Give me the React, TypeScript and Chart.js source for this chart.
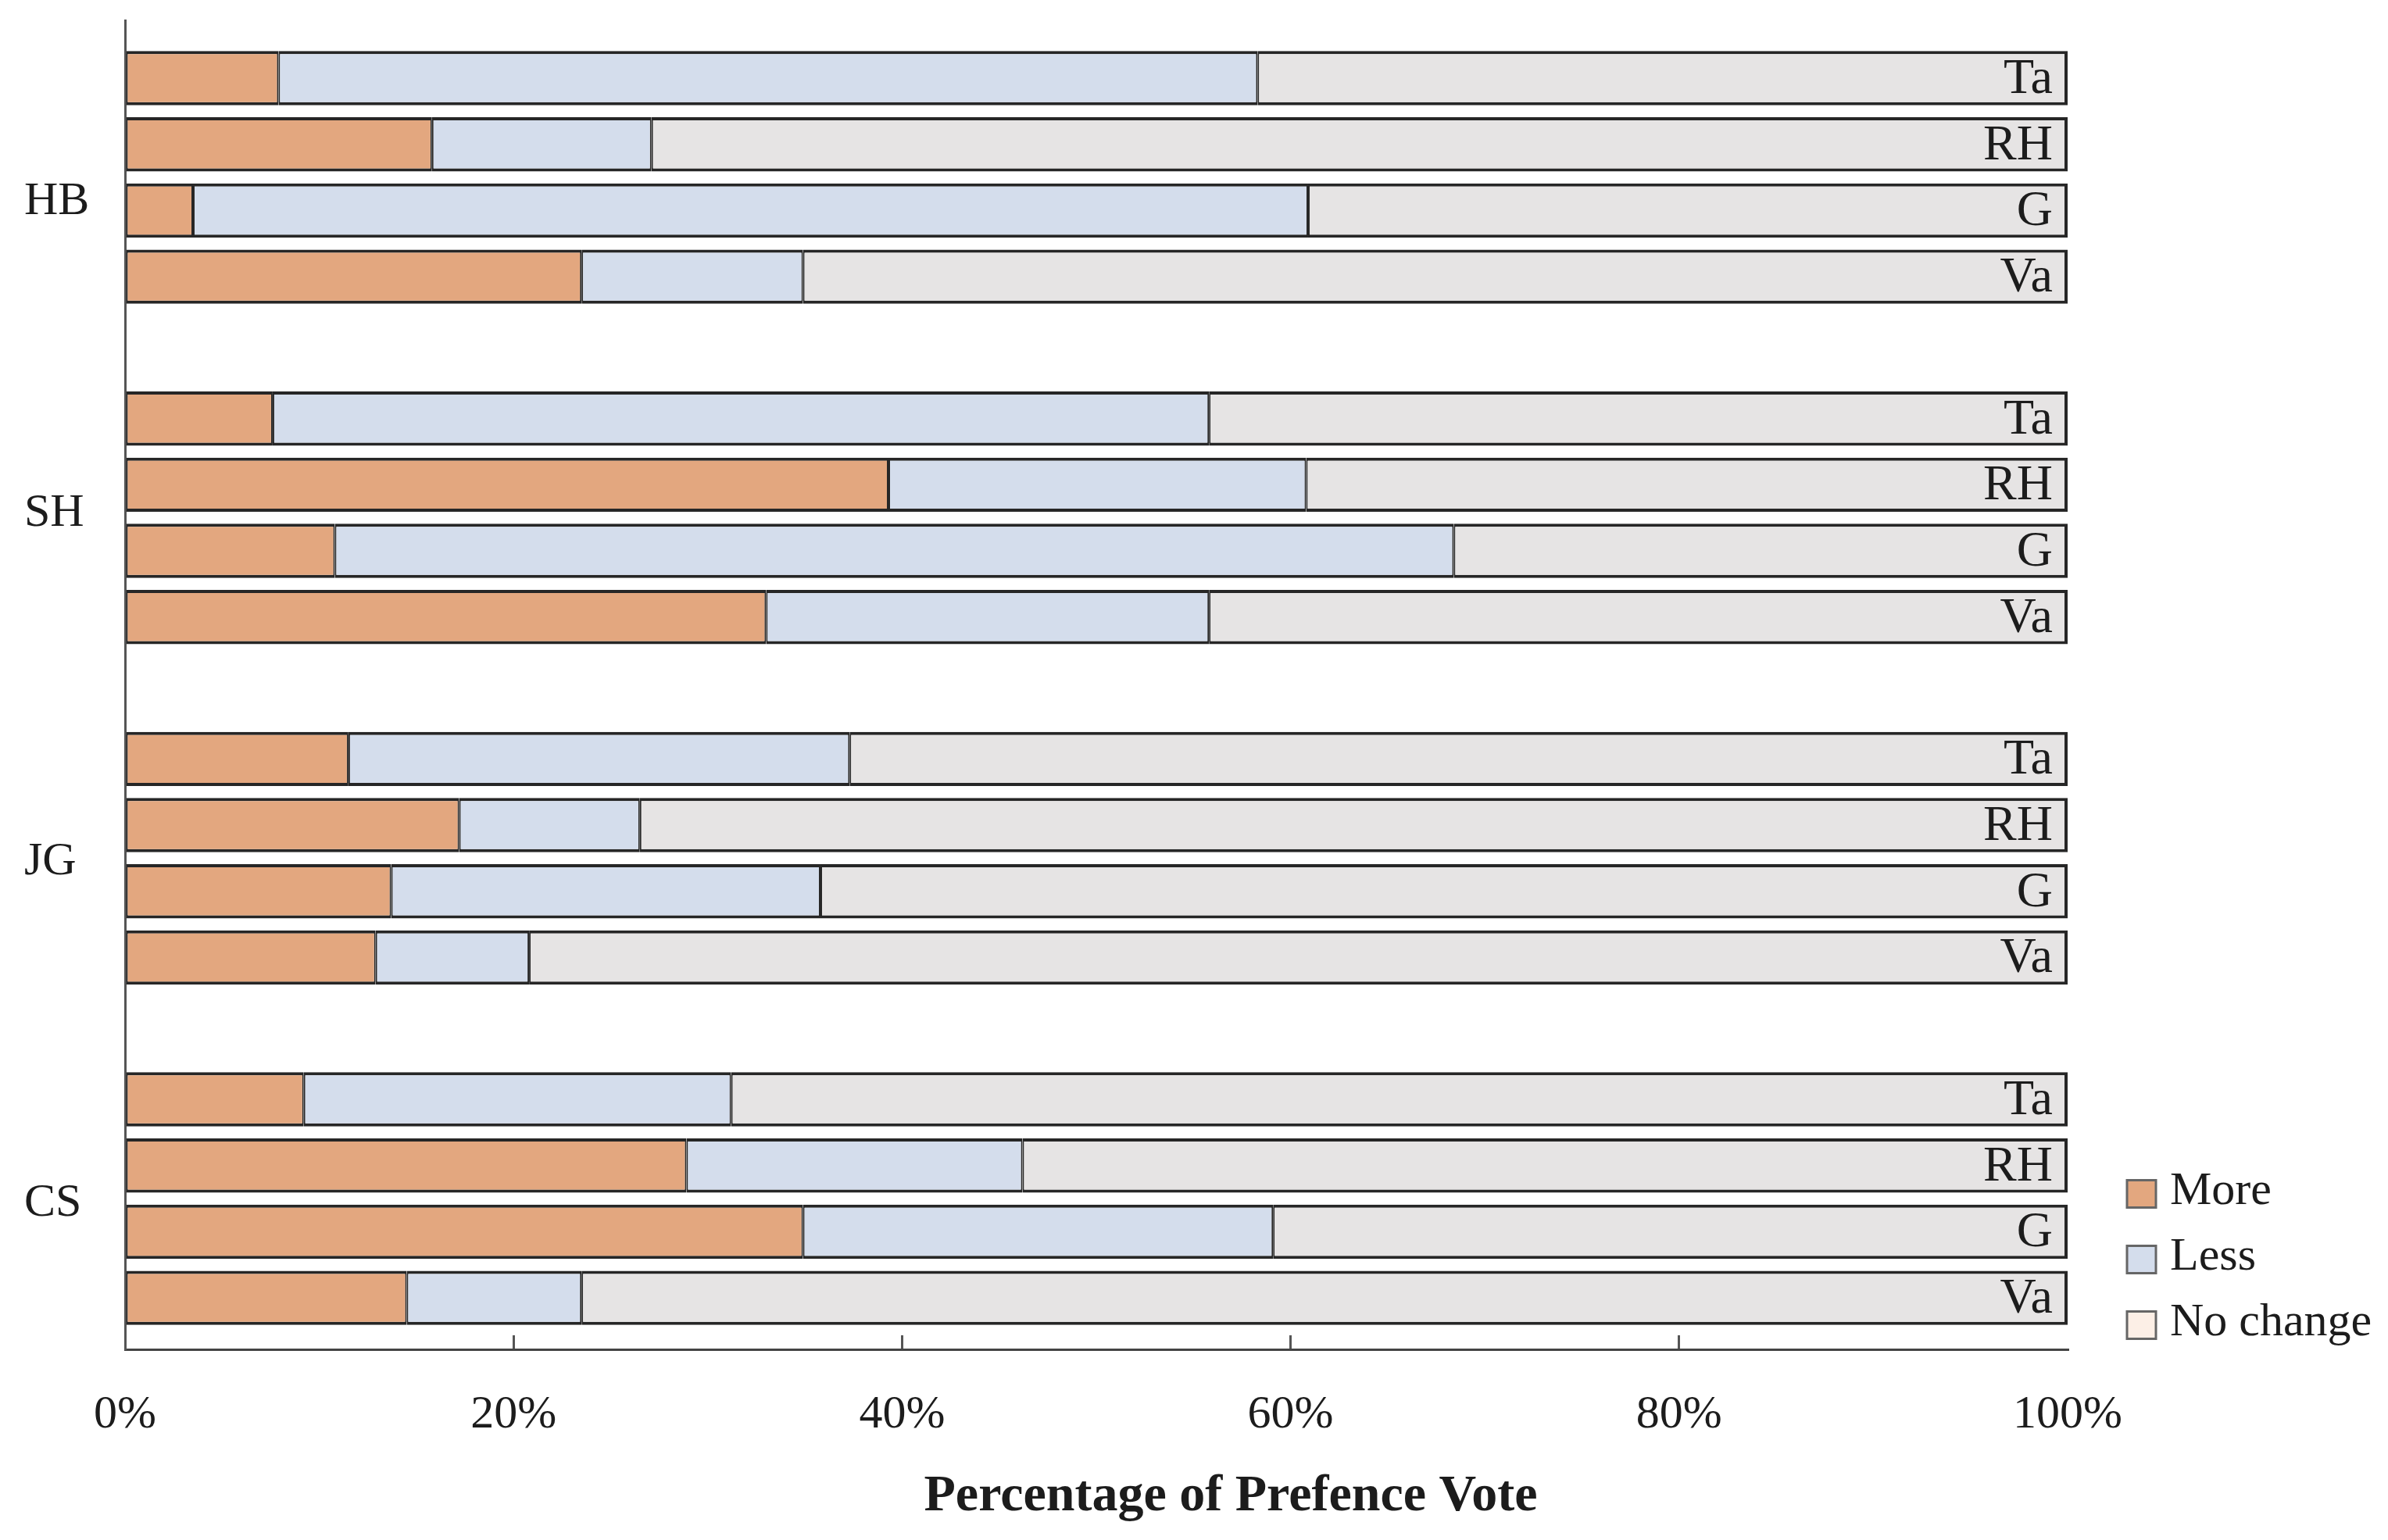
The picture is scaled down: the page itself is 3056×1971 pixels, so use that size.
import React, { useEffect, useRef } from 'react';
import { Chart, registerables } from 'chart.js';

Chart.register(...registerables);

// ---- data ----
const GROUPS = ['HB', 'SH', 'JG', 'CS'];
const ITEMS = ['Ta', 'RH', 'G', 'Va'];
const SERIES = ['More', 'Less', 'No change'];
// values in group order (HB, SH, JG, CS), each group Ta, RH, G, Va
const MORE = [7.9, 15.8, 3.5, 23.5, 7.6, 39.3, 10.8, 33.0, 11.5, 17.2, 13.7, 12.9, 9.2, 28.9, 34.9, 14.5];
const LESS = [50.4, 11.3, 57.4, 11.4, 48.2, 21.5, 57.6, 22.8, 25.8, 9.3, 22.1, 7.9, 22.0, 17.3, 24.2, 9.0];
const NO_CHANGE = [41.7, 72.9, 39.1, 65.1, 44.2, 39.2, 31.6, 44.2, 62.7, 73.5, 64.2, 79.2, 68.8, 53.8, 40.9, 76.5];
const X_TICK_STEP = 20;
const X_AXIS_TITLE = 'Percentage of Prefence Vote';

// ---- styling / layout ----
const FONT = "'Liberation Serif', 'DejaVu Serif', serif";
const TEXT = '#1c1c1c';
const BAR_COLORS = ['#E3A77F', '#D4DDEC', '#E6E4E4'];
const LEGEND_COLORS = ['#E3A77F', '#D4DDEC', '#FCEFE6'];
const BORDER = '#262626';
const GROUP_STEP = 5.144; // distance between groups in bar units
const LABEL_SHIFT = [0.37, -0.06, 0.06, 0.07];
const FS = 60;

const SERIES_VALUES = [MORE, LESS, NO_CHANGE];

const position = (k: number) => Math.floor(k / ITEMS.length) * GROUP_STEP + (k % ITEMS.length);

const barLabelPlugin = {
  id: 'barLabels',
  afterDatasetsDraw(chart: any) {
    const ctx = chart.ctx;
    const meta = chart.getDatasetMeta(chart.data.datasets.length - 1);
    ctx.save();
    ctx.font = `64px ${FONT}`;
    ctx.fillStyle = TEXT;
    ctx.textAlign = 'right';
    ctx.textBaseline = 'middle';
    meta.data.forEach((el: any, k: number) => {
      const { x, y } = el.getProps(['x', 'y'], true);
      ctx.fillText(ITEMS[k % ITEMS.length], x - 19, y + 2);
    });
    ctx.restore();
  },
};

const sideLegendPlugin = {
  id: 'sideLegend',
  afterDraw(chart: any) {
    const { ctx, chartArea } = chart;
    ctx.save();
    ctx.font = `${FS}px ${FONT}`;
    ctx.textAlign = 'left';
    ctx.textBaseline = 'middle';
    const n = SERIES.length;
    SERIES.forEach((name, i) => {
      const cy = chartArea.bottom - 31 - 84 * (n - 1 - i);
      const x0 = chartArea.right + 76;
      ctx.fillStyle = LEGEND_COLORS[i];
      ctx.fillRect(x0, cy - 17.5, 37, 35);
      ctx.strokeStyle = '#666';
      ctx.lineWidth = 3;
      ctx.strokeRect(x0, cy - 17.5, 37, 35);
      ctx.fillStyle = TEXT;
      ctx.fillText(name, x0 + 55, cy - 3);
    });
    ctx.restore();
  },
};

const axisTitlePlugin = {
  id: 'axisTitle',
  afterDraw(chart: any) {
    const { ctx, chartArea } = chart;
    ctx.save();
    ctx.font = `bold 66px ${FONT}`;
    ctx.fillStyle = TEXT;
    ctx.textAlign = 'center';
    ctx.textBaseline = 'alphabetic';
    ctx.fillText(X_AXIS_TITLE, (chartArea.left + chartArea.right) / 2 + 172, chartArea.bottom + 206);
    ctx.restore();
  },
};

export default function App() {
  const ref = useRef<HTMLCanvasElement>(null);

  useEffect(() => {
    document.body.style.margin = '0';
    document.body.style.overflow = 'hidden';
    const datasets = SERIES.map((name, s) => ({
      label: name,
      data: SERIES_VALUES[s].map((v, k) => ({ x: v, y: position(k) })),
      backgroundColor: BAR_COLORS[s],
      borderColor: BORDER,
      borderWidth: s === SERIES.length - 1
        ? { top: 4, bottom: 4, left: 2, right: 4 }
        : { top: 4, bottom: 4, left: 2, right: 2 },
      borderSkipped: false,
      categoryPercentage: 1,
      barPercentage: 0.82,
    }));

    const chart = new Chart(ref.current as HTMLCanvasElement, {
      type: 'bar',
      data: { datasets } as any,
      options: {
        indexAxis: 'y',
        animation: false,
        responsive: true,
        maintainAspectRatio: false,
        layout: { padding: { left: 31, right: 410, top: 26, bottom: 0 } },
        plugins: {
          legend: { display: false },
          tooltip: { enabled: false },
          title: { display: false },
        },
        scales: {
          x: {
            type: 'linear',
            position: 'bottom',
            stacked: true,
            min: 0,
            max: 100,
            ticks: {
              stepSize: X_TICK_STEP,
              callback: (v: any) => `${v}%`,
              font: { family: FONT, size: FS },
              color: TEXT,
              padding: 66,
              maxRotation: 0,
              autoSkip: false,
            },
            grid: {
              display: true,
              drawOnChartArea: false,
              drawTicks: true,
              tickLength: -18,
              color: '#555',
              tickColor: (c: any) => (c.tick && (c.tick.value === 0 || c.tick.value === 100) ? 'rgba(0,0,0,0)' : '#555'),
              lineWidth: 3,
            },
            border: { display: true, color: '#444', width: 3 },
            afterFit: (scale: any) => {
              scale.height = 244;
            },
          },
          y: {
            type: 'linear',
            reverse: true,
            stacked: true,
            min: -0.874,
            max: 19.21,
            offset: false,
            afterBuildTicks: (scale: any) => {
              scale.ticks = GROUPS.map((_, g) => ({ value: g * GROUP_STEP + 1.5 + LABEL_SHIFT[g] }));
            },
            ticks: {
              callback: (_v: any, i: number) => GROUPS[i],
              font: { family: FONT, size: FS, lineHeight: 0.6 },
              color: TEXT,
              crossAlign: 'far',
              autoSkip: false,
            },
            grid: { display: false },
            border: { display: true, color: '#555', width: 3 },
            afterFit: (scale: any) => {
              scale.width = 129;
            },
          },
        },
      } as any,
      plugins: [barLabelPlugin, sideLegendPlugin, axisTitlePlugin],
    });
    return () => chart.destroy();
  }, []);

  return (
    <div style={{ position: 'fixed', left: 0, top: 0, width: '100vw', height: '100vh', background: '#fff' }}>
      <canvas ref={ref} />
    </div>
  );
}
